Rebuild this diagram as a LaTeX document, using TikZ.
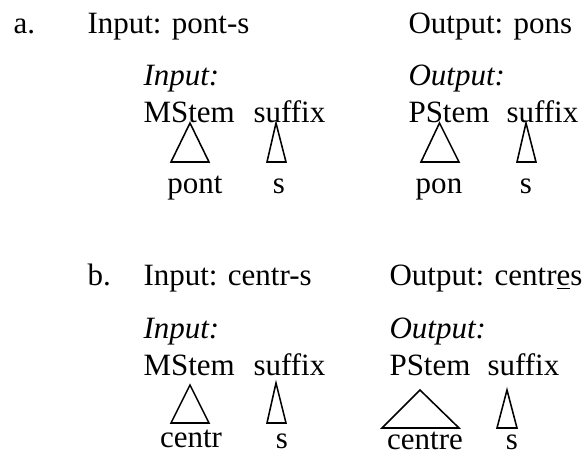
\documentclass[tikz,border=0pt]{standalone}
\usepackage{fontspec}
\setmainfont{Liberation Serif}
\usepackage{tikz}
\usetikzlibrary{positioning}

\begin{document}
\begin{tikzpicture}[x=0.387pt, y=-0.387pt,
    word/.style={inner sep=0pt, anchor=base west, font=\fontsize{12}{14}\selectfont},
    leaf/.style={inner sep=0pt, anchor=base, font=\fontsize{12}{14}\selectfont},
    tri/.style={draw, line width=0.6pt, line join=miter}
]
    \useasboundingbox (0,0) rectangle (587,452);

    % (a) pont-s -> pons
    \node[word] (la) at (13,33) {a.};
    \node[word] (ina) at (87,33) {Input: pont-s};
    \node[word] (outa) at (408,33) {Output: pons};

    \node[word] (inlaba) at (143,85) {\textit{Input:}};
    \node[word] (outlaba) at (408,85) {\textit{Output:}};

    \node[word] (msa) at (143,122) {MStem};
    \node[word] (sfa) at (253,122) {suffix};
    \node[word] (psa) at (408,122) {PStem};
    \node[word] (sfoa) at (506,122) {suffix};

    \draw[tri] (190,123) -- (209,162) -- (171,162) -- cycle;
    \draw[tri] (276,123) -- (286,162) -- (267,162) -- cycle;
    \draw[tri] (439.5,123) -- (459,162) -- (421,162) -- cycle;
    \draw[tri] (526,123) -- (536,162) -- (517,162) -- cycle;

    \node[leaf] (pont) at (195,193) {pont};
    \node[leaf] (sa) at (279,193) {s};
    \node[leaf] (pon) at (439,193) {pon};
    \node[leaf] (soa) at (526,193) {s};

    % (b) centr-s -> centres
    \node[word] (lb) at (87,285) {b.};
    \node[word] (inb) at (143,285) {Input: centr-s};
    \node[word] (outb) at (389,285) {Output: centr\underline{e}s};

    \node[word] (inlabb) at (143,338) {\textit{Input:}};
    \node[word] (outlabb) at (389,338) {\textit{Output:}};

    \node[word] (msb) at (143,375) {MStem};
    \node[word] (sfb) at (253,375) {suffix};
    \node[word] (psb) at (389,375) {PStem};
    \node[word] (sfob) at (487,375) {suffix};

    \draw[tri] (190,385) -- (209,423) -- (171,423) -- cycle;
    \draw[tri] (276,383) -- (286,423) -- (267,423) -- cycle;
    \draw[tri] (420,390) -- (459,428) -- (382,428) -- cycle;
    \draw[tri] (507,390) -- (517,428) -- (497,428) -- cycle;

    \node[leaf] (centr) at (191,447) {centr};
    \node[leaf] (sb) at (282,448) {s};
    \node[leaf] (centre) at (425,449) {centre};
    \node[leaf] (sob) at (512,449) {s};
\end{tikzpicture}
\end{document}
